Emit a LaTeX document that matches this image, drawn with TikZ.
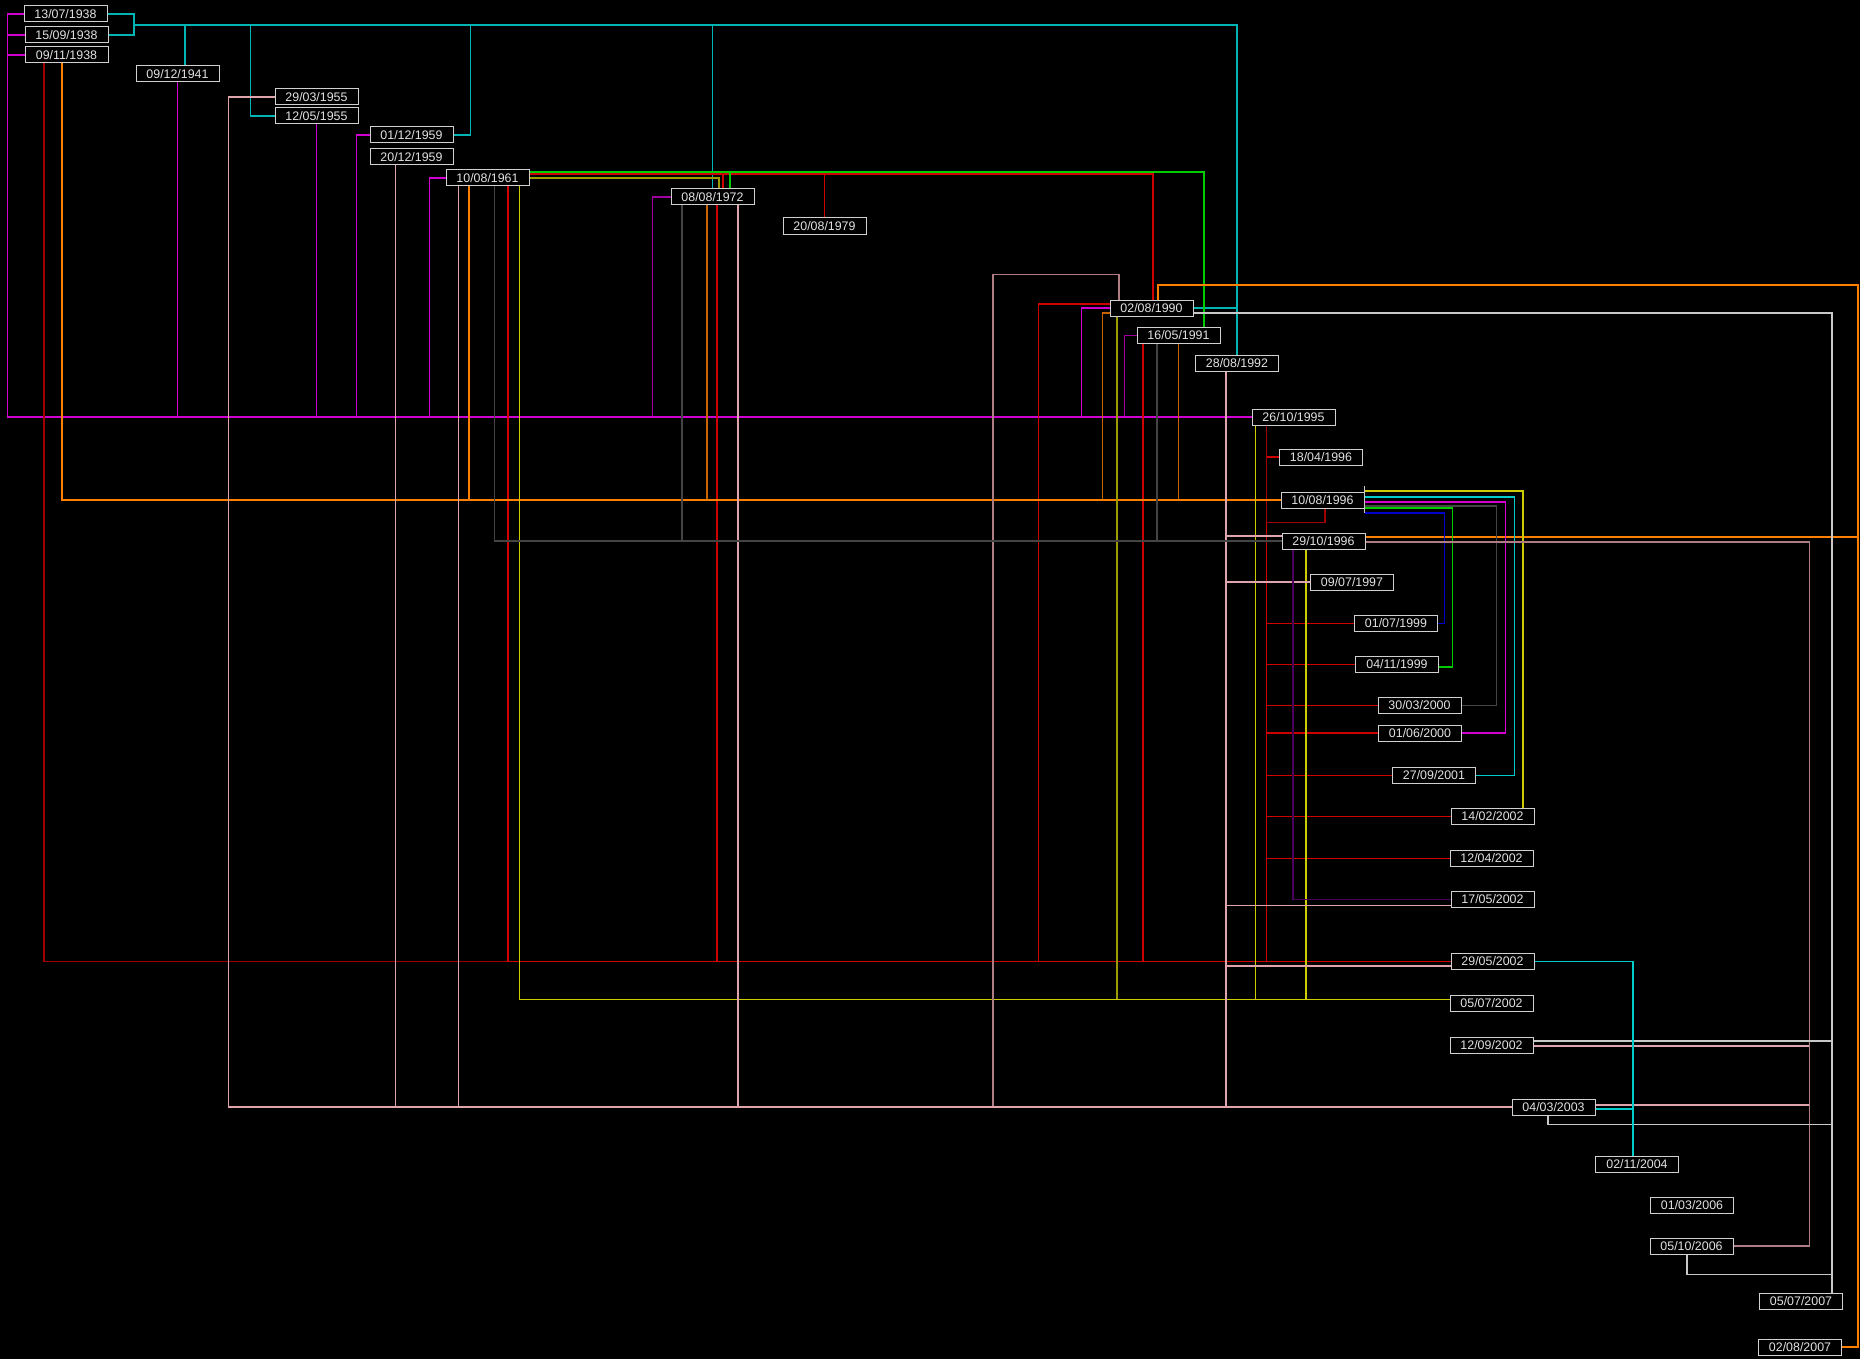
\documentclass[tikz,border=0pt]{standalone}
\usepackage{fontspec}
\setmainfont{Liberation Sans}
\usepackage{xcolor}
\usepackage{tikz}

\definecolor{boxline}{HTML}{D0D0D0}
\definecolor{datetext}{HTML}{E2E2E2}
\definecolor{lnmag}{HTML}{D000D0}
\definecolor{lnmagdk}{HTML}{A000A0}
\definecolor{lnteal}{HTML}{00B4B4}
\definecolor{lncyan}{HTML}{00CCCC}
\definecolor{lnred}{HTML}{D00000}
\definecolor{lnreddk}{HTML}{A00000}
\definecolor{lnorange}{HTML}{FF8000}
\definecolor{lnbrown}{HTML}{C86400}
\definecolor{lnpink}{HTML}{E0A4AC}
\definecolor{lnrose}{HTML}{B07C84}
\definecolor{lnyellow}{HTML}{CCCC00}
\definecolor{lnolive}{HTML}{9C9C00}
\definecolor{lngreen}{HTML}{00CC00}
\definecolor{lngray}{HTML}{444444}
\definecolor{lnwhite}{HTML}{C8C8C8}
\definecolor{lnblue}{HTML}{0000CC}
\definecolor{lnpurple}{HTML}{4A005C}

\begin{document}
\begin{tikzpicture}[x=1pt, y=-1pt,
		date/.style={draw=boxline, fill=black, text=datetext, line width=1pt, minimum width=83pt, minimum height=16pt, inner sep=0pt, font=\fontsize{12.4}{14}\selectfont},
		link/.style={line width=1.4pt}]
		\fill[black] (0, 0) rectangle (1860, 1359);

		\node[date] at (65.5, 14) (n130738) {13/07/1938};
		\node[date] at (66.5, 35) (n150938) {15/09/1938};
		\node[date] at (66.5, 55) (n091138) {09/11/1938};
		\node[date] at (177.5, 74) (n091241) {09/12/1941};
		\node[date] at (316.5, 97) (n290355) {29/03/1955};
		\node[date] at (316.5, 116) (n120555) {12/05/1955};
		\node[date] at (411.5, 135) (n011259) {01/12/1959};
		\node[date] at (411.5, 157) (n201259) {20/12/1959};
		\node[date] at (487.5, 178) (n100861) {10/08/1961};
		\node[date] at (712.5, 197) (n080872) {08/08/1972};
		\node[date] at (824.5, 226) (n200879) {20/08/1979};
		\node[date] at (1151.5, 308) (n020890) {02/08/1990};
		\node[date] at (1178.5, 335.5) (n160591) {16/05/1991};
		\node[date] at (1237, 363) (n280892) {28/08/1992};
		\node[date] at (1293.5, 417) (n261095) {26/10/1995};
		\node[date] at (1321, 457) (n180496) {18/04/1996};
		\node[date] at (1322.5, 500) (n100896) {10/08/1996};
		\node[date] at (1323.5, 541) (n291096) {29/10/1996};
		\node[date] at (1352, 582) (n090797) {09/07/1997};
		\node[date] at (1396, 623.5) (n010799) {01/07/1999};
		\node[date] at (1397, 664.5) (n041199) {04/11/1999};
		\node[date] at (1419.5, 705.5) (n300300) {30/03/2000};
		\node[date] at (1420, 733) (n010600) {01/06/2000};
		\node[date] at (1434, 775.5) (n270901) {27/09/2001};
		\node[date] at (1492.5, 816.5) (n140202) {14/02/2002};
		\node[date] at (1491.5, 858.5) (n120402) {12/04/2002};
		\node[date] at (1492.5, 899.5) (n170502) {17/05/2002};
		\node[date] at (1492.5, 961.5) (n290502) {29/05/2002};
		\node[date] at (1491.5, 1003) (n050702) {05/07/2002};
		\node[date] at (1491.5, 1045) (n120902) {12/09/2002};
		\node[date] at (1553.5, 1107) (n040303) {04/03/2003};
		\node[date] at (1637, 1164) (n021104) {02/11/2004};
		\node[date] at (1692, 1205) (n010306) {01/03/2006};
		\node[date] at (1691.5, 1246) (n051006) {05/10/2006};
		\node[date] at (1801, 1301) (n050707) {05/07/2007};
		\node[date] at (1800, 1347) (n020807) {02/08/2007};

		\coordinate (tealbus) at (134, 25);
		\coordinate (orangeR) at (1858, 285);

		\draw[link, lnmagdk] (n080872.west) -- ++(-18, 0) |- (n261095.west);
		\draw[link, lnmagdk] (n160591.west) -- ++(-12, 0) |- (n261095.west);
		\draw[link, lnmag] (n130738.west) -- ++(-16, 0) |- (n261095.west);
		\draw[link, lnmag] (n150938.west) -- ++(-17, 0) |- (n261095.west);
		\draw[link, lnmag] (n091138.west) -- ++(-17, 0) |- (n261095.west);
		\draw[link, lnmag] (n091241.south) |- (n261095.west);
		\draw[link, lnmag] (n120555.south) |- (n261095.west);
		\draw[link, lnmag] (n011259.west) -- ++(-13, 0) |- (n261095.west);
		\draw[link, lnmag] (n100861.west) -- ++(-16, 0) |- (n261095.west);
		\draw[link, lnmag] (n020890.west) -- ++(-28, 0) |- (n261095.west);

		\draw[link, lnteal] (n130738.east) -| (tealbus) -| (n280892.north);
		\draw[link, lnteal] (n150938.east) -| (tealbus);
		\draw[link, lnteal] ([xshift=7.5pt]n091241.north) |- (tealbus -| n280892.north) -- (n280892.north);
		\draw[link, lnteal] (n120555.west) -- ++(-24, 0) |- (tealbus -| n280892.north) -- (n280892.north);
		\draw[link, lnteal] (n011259.east) -- ++(17, 0) |- (tealbus -| n280892.north) -- (n280892.north);
		\draw[link, lnteal] (n080872.north) |- (tealbus -| n280892.north) -- (n280892.north);
		\draw[link, lnteal] (n020890.east) -| (n280892.north);

		\draw[link, lnred] ([yshift=4pt]n100861.east) -| ([xshift=1.5pt]n020890.north);
		\draw[link, lnred] ([yshift=4pt]n100861.east) -| ([xshift=10.5pt]n080872.north);
		\draw[link, lnred] ([yshift=4pt]n100861.east) -| (n200879.north);
		\draw[link, lngreen] ([yshift=6pt]n100861.east) -| ([xshift=25.5pt]n160591.north);
		\draw[link, lngreen] ([yshift=6pt]n100861.east) -| ([xshift=17.5pt]n080872.north);
		\draw[link, lnolive] (n100861.east) -| ([xshift=6.5pt]n080872.north);

		\draw[link, lnreddk] ([xshift=-22.5pt]n091138.south) |- (n290502.west);
		\draw[link, lnred] ([xshift=20.5pt]n100861.south) |- (n290502.west);
		\draw[link, lnred] ([xshift=4.5pt]n080872.south) |- (n290502.west);
		\draw[link, lnred] ([yshift=4pt]n020890.west) -- ++(-71, 0) |- (n290502.west);
		\draw[link, lnred] ([xshift=-35.5pt]n160591.south) |- (n290502.west);
		\draw[link, lnred] ([xshift=-27pt]n261095.south) |- (n290502.west);
		\draw[link, lnred] ([xshift=-27pt]n261095.south) |- (n180496.west);
		\draw[link, lnred] ([xshift=-27pt]n261095.south) |- (n010799.west);
		\draw[link, lnred] ([xshift=-27pt]n261095.south) |- (n041199.west);
		\draw[link, lnred] ([xshift=-27pt]n261095.south) |- (n300300.west);
		\draw[link, lnred] ([xshift=-27pt]n261095.south) |- (n010600.west);
		\draw[link, lnred] ([xshift=-27pt]n261095.south) |- (n270901.west);
		\draw[link, lnred] ([xshift=-27pt]n261095.south) |- (n140202.west);
		\draw[link, lnred] ([xshift=-27pt]n261095.south) |- (n120402.west);
		\draw[link, lnreddk] ([xshift=2.5pt]n100896.south) -- ++(0, 14) -| ([xshift=-27pt]n261095.south);

		\draw[link, lnbrown] ([xshift=-5.5pt]n080872.south) |- (n100896.west);
		\draw[link, lnbrown] ([yshift=-5pt]n020890.west) -- ++(-7, 0) |- (n100896.west);
		\draw[link, lnbrown] (n160591.south) |- (n100896.west);
		\draw[link, lnorange] ([xshift=-4.5pt]n091138.south) |- (n100896.west);
		\draw[link, lnorange] ([xshift=-18.5pt]n100861.south) |- (n100896.west);
		\draw[link, lnorange] ([xshift=6.5pt]n020890.north) |- (orangeR) |- (n020807.east);
		\draw[link, lnorange] ([yshift=4pt]n291096.east) -| (n020807.east -| orangeR) -- (n020807.east);

		\draw[link, lnolive] ([xshift=-34.5pt]n020890.south) |- ([yshift=3.5pt]n050702.west);
		\draw[link, lnyellow] ([xshift=32pt]n100861.south) |- ([yshift=3.5pt]n050702.west);
		\draw[link, lnyellow] ([xshift=-38pt]n261095.south) |- ([yshift=3.5pt]n050702.west);
		\draw[link, lnyellow] ([xshift=-17.5pt]n291096.south) |- ([yshift=3.5pt]n050702.west);

		\draw[link, lnyellow] ([yshift=9pt]n100896.east) -| ([xshift=30.5pt]n140202.north);
		\draw[link, lncyan] ([yshift=3pt]n100896.east) -- ++(150, 0) |- (n270901.east);
		\draw[link, lnmag] ([yshift=-2pt]n100896.east) -- ++(141, 0) |- (n010600.east);
		\draw[link, lngray] ([yshift=-6pt]n100896.east) -- ++(132, 0) |- (n300300.east);
		\draw[link, lngreen] ([yshift=-8pt]n100896.east) -- ++(88, 0) |- ([yshift=-2.5pt]n041199.east);
		\draw[link, lnblue] ([yshift=-13pt]n100896.east) -- ++(80, 0) |- (n010799.east);
		\draw[link, lnwhite] ([yshift=14pt]n100896.east) -- ([yshift=-13pt]n100896.east);

		\draw[link, lnrose] ([xshift=-32.5pt]n020890.north) -- ++(0, -25) -- ++(-126, 0) |- (n040303.west);
		\draw[link, lnpink] (n290355.west) -- ++(-46, 0) |- (n040303.west);
		\draw[link, lnpink] ([xshift=-16pt]n201259.south) |- (n040303.west);
		\draw[link, lnpink] ([xshift=-29pt]n100861.south) |- (n040303.west);
		\draw[link, lnpink] ([xshift=25.5pt]n080872.south) |- (n040303.west);
		\draw[link, lnpink] ([xshift=-11pt]n280892.south) |- (n040303.west);
		\draw[link, lnpink] ([xshift=-11pt]n280892.south) |- ([yshift=5pt]n291096.west);
		\draw[link, lnpink] ([xshift=-11pt]n280892.south) |- (n090797.west);
		\draw[link, lnpink] ([xshift=-11pt]n280892.south) |- ([yshift=-6pt]n170502.west);
		\draw[link, lnpink] ([xshift=-11pt]n280892.south) |- ([yshift=-4.5pt]n290502.west);

		\draw[link, lnpink] ([yshift=-1pt]n120902.east) -| ([xshift=76pt]n051006.east) -- (n051006.east);
		\draw[link, lnpink] ([yshift=2pt]n040303.east) -| ([xshift=76pt]n051006.east) -- (n051006.east);
		\draw[link, lnrose] ([yshift=-1pt]n291096.east) -| ([xshift=76pt]n051006.east) -- (n051006.east);

		\draw[link, lnwhite] ([yshift=-5pt]n020890.east) -| ([xshift=31pt]n050707.north);
		\draw[link, lnwhite] ([yshift=4pt]n120902.east) -| ([xshift=31pt]n050707.north);
		\draw[link, lnwhite] ([xshift=-5.5pt]n040303.south) -- ++(0, 9) -| ([xshift=31pt]n050707.north);
		\draw[link, lnwhite] ([xshift=-4.5pt]n051006.south) -- ++(0, 20) -| ([xshift=31pt]n050707.north);

		\draw[link, lncyan] (n290502.east) -| ([xshift=-4pt]n021104.north);
		\draw[link, lncyan] ([yshift=-2pt]n040303.east) -| ([xshift=-4pt]n021104.north);

		\draw[link, lngray] ([xshift=7pt]n100861.south) |- (n291096.west);
		\draw[link, lngray] ([xshift=-30.5pt]n080872.south) |- (n291096.west);
		\draw[link, lngray] ([xshift=-21.5pt]n160591.south) |- (n291096.west);

		\draw[link, lnpurple] ([xshift=-30.5pt]n291096.south) |- (n170502.west);
	\end{tikzpicture}
\end{document}
